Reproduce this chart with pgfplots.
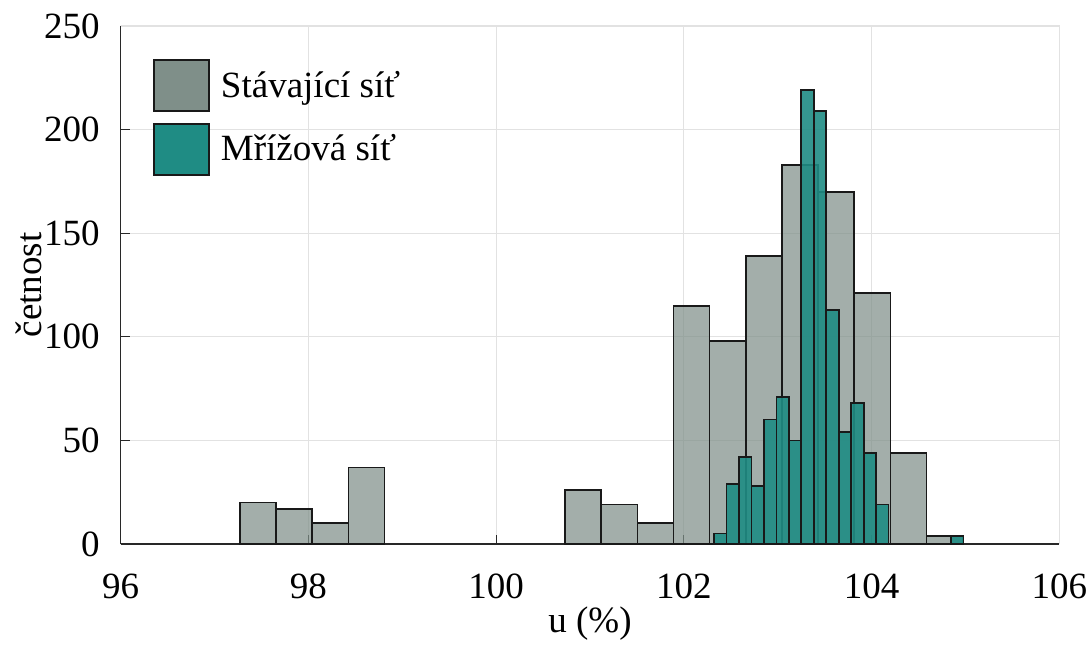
\documentclass[border=0pt]{standalone}
\usepackage{pgfplots}
\pgfplotsset{compat=1.18}
\usepackage{fontspec}
\setmainfont{Liberation Serif}

\definecolor{stav}{RGB}{127,143,137}
\definecolor{mriz}{RGB}{31,140,132}
\definecolor{gridc}{RGB}{226,226,226}
\definecolor{axc}{RGB}{40,40,40}

\begin{document}
\begin{tikzpicture}
\begin{axis}[
  scale only axis,
  width=469.3pt, height=259pt,
  xmin=96, xmax=106, ymin=0, ymax=250,
  xtick={96,98,...,106}, ytick={0,50,...,250},
  font=\fontsize{18.5}{22}\selectfont,
  /pgf/number format/assume math mode=true,
  axis x line*=bottom, axis y line*=left,
  axis line style={-, draw=axc, line width=0.6pt},
  tick align=inside,
  major tick length=4.5pt,
  tick style={draw=axc, line width=0.6pt},
  grid=major,
  major grid style={draw=gridc, line width=0.5pt},
  xticklabel style={anchor=base, inner sep=0pt, yshift=-27.2pt},
  yticklabel style={anchor=east, inner sep=0pt, xshift=-10.35pt},
  xlabel={u (\%)},
  ylabel={četnost},
  xlabel style={at={(axis description cs:0.5,-0.1718)}, anchor=base},
  ylabel style={at={(axis description cs:-0.08385,0.5)}, anchor=base},
  legend cell align=left,
  legend style={draw=none, fill=none, at={(axis description cs:0,1)},
    anchor=north west, xshift=16.15pt, yshift=-16.5pt, inner sep=0pt,
    row sep=5.5pt, column sep=5.5pt, nodes={inner sep=0pt},
    font=\fontsize{18.5}{22}\selectfont},
  legend image code/.code={%
    \draw[#1, fill opacity=1, draw opacity=1] (0pt,-12.75pt) rectangle (27.5pt,12.75pt);},
]
% Stávající síť: bins of width 0.385, x = bin centre
\addplot[ybar, bar shift=0pt, bar width=0.385, fill=stav, fill opacity=0.72,
         draw=black!90, line width=0.8pt]
  coordinates {(97.4625,20) (97.8475,17) (98.2325,10) (98.6175,37)
               (100.9275,26) (101.3125,19) (101.6975,10) (102.0825,115)
               (102.4675,98) (102.8525,139) (103.2375,183) (103.6225,170)
               (104.0075,121) (104.3925,44) (104.7775,4)};
\addlegendentry{Stávající síť}
% Mřížová síť: bins of width 0.133, x = bin centre
\addplot[ybar, bar shift=0pt, bar width=0.133, fill=mriz, fill opacity=0.9,
         draw=black!90, line width=0.8pt]
  coordinates {(102.3865,5) (102.5195,29) (102.6525,42) (102.7855,28)
               (102.9185,60) (103.0515,71) (103.1845,50) (103.3175,219)
               (103.4505,209) (103.5835,113) (103.7165,54) (103.8495,68)
               (103.9825,44) (104.1155,19) (104.9135,4)};
\addlegendentry{Mřížová síť}
\coordinate (bl) at (rel axis cs:0,0);
\coordinate (tr) at (rel axis cs:1,1);
\end{axis}
% light upper and right frame
\draw[gridc, line width=0.6pt] (bl |- tr) -- (tr) -- (tr |- bl);
\path ([shift={(-60.35pt,-49.5pt)}]bl) rectangle ([shift={(16.35pt,13pt)}]tr);
\end{tikzpicture}
\end{document}
